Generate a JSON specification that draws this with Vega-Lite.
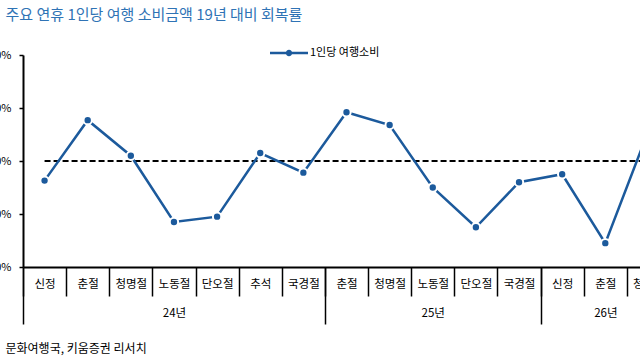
{
  "$schema": "https://vega.github.io/schema/vega-lite/v6.json",
  "width": 647,
  "height": 212,
  "autosize": "none",
  "padding": {"left": 23, "top": 55, "right": 0, "bottom": 93},
  "config": {
    "view": {"stroke": null},
    "font": "Noto Sans CJK KR",
    "axis": {"grid": false, "domainColor": "black", "tickColor": "black", "labelColor": "black", "labelFont": "Noto Sans CJK KR", "titleFont": "Noto Sans CJK KR", "labelFlush": false, "labelBound": false, "labelOverlap": false}
  },
  "datasets": {
    "main": [
      {"idx": 0, "name": "신정", "year": "24년", "value": 96.3, "series": "1인당 여행소비"},
      {"idx": 1, "name": "춘절", "year": "24년", "value": 107.7, "series": "1인당 여행소비"},
      {"idx": 2, "name": "청명절", "year": "24년", "value": 101.0, "series": "1인당 여행소비"},
      {"idx": 3, "name": "노동절", "year": "24년", "value": 88.5, "series": "1인당 여행소비"},
      {"idx": 4, "name": "단오절", "year": "24년", "value": 89.5, "series": "1인당 여행소비"},
      {"idx": 5, "name": "추석", "year": "24년", "value": 101.5, "series": "1인당 여행소비"},
      {"idx": 6, "name": "국경절", "year": "24년", "value": 97.8, "series": "1인당 여행소비"},
      {"idx": 7, "name": "춘절", "year": "25년", "value": 109.2, "series": "1인당 여행소비"},
      {"idx": 8, "name": "청명절", "year": "25년", "value": 106.8, "series": "1인당 여행소비"},
      {"idx": 9, "name": "노동절", "year": "25년", "value": 95.0, "series": "1인당 여행소비"},
      {"idx": 10, "name": "단오절", "year": "25년", "value": 87.5, "series": "1인당 여행소비"},
      {"idx": 11, "name": "국경절", "year": "25년", "value": 96.0, "series": "1인당 여행소비"},
      {"idx": 12, "name": "신정", "year": "26년", "value": 97.5, "series": "1인당 여행소비"},
      {"idx": 13, "name": "춘절", "year": "26년", "value": 84.5, "series": "1인당 여행소비"},
      {"idx": 14, "name": "청명절", "year": "26년", "value": 105.7, "series": "1인당 여행소비"}
    ],
    "ref": [{"x": 0, "x2": 14.5, "y": 100}]
  },
  "layer": [
    {
      "data": {"name": "ref"},
      "mark": {"type": "rule", "strokeDash": [6, 3], "strokeWidth": 2, "color": "black"},
      "encoding": {
        "x": {
          "field": "x", "type": "quantitative",
          "scale": {"domain": [-0.5, 14.5], "nice": false, "zero": false},
          "axis": {
            "orient": "bottom",
            "values": [-0.5, 3, 6.5, 9, 11.5, 13],
            "tickSize": 57, "tickWidth": 1.5,
            "tickOpacity": {"condition": {"test": "datum.value == 3 || datum.value == 9 || datum.value == 13", "value": 0}, "value": 1},
            "labelExpr": "datum.value == 3 ? '24년' : datum.value == 9 ? '25년' : datum.value == 13 ? '26년' : ''",
            "labelPadding": -17, "labelFontSize": 11.5,
            "domain": false,
            "title": "문화여행국, 키움증권 리서치",
            "titleX": -18, "titleY": 81, "titleAlign": "left", "titleBaseline": "middle",
            "titleFontSize": 12, "titleFontWeight": "normal", "titleColor": "black"
          }
        },
        "x2": {"field": "x2"},
        "y": {"field": "y", "type": "quantitative", "scale": {"domain": [80, 120], "nice": false, "zero": false}}
      }
    },
    {
      "data": {"name": "main"},
      "mark": {"type": "line", "strokeWidth": 2.5},
      "encoding": {
        "x": {
          "field": "idx", "type": "quantitative",
          "scale": {"domain": [-0.5, 14.5], "nice": false, "zero": false},
          "axis": {
            "orient": "bottom",
            "values": [-0.5, 0.5, 1.5, 2.5, 3.5, 4.5, 5.5, 6.5, 7.5, 8.5, 9.5, 10.5, 11.5, 12.5, 13.5, 14.5],
            "tickSize": 29, "tickWidth": 1.5,
            "labels": false,
            "domain": true, "domainWidth": 2,
            "title": null
          }
        },
        "y": {
          "field": "value", "type": "quantitative",
          "scale": {"domain": [80, 120], "nice": false, "zero": false},
          "axis": {
            "values": [80, 90, 100, 110, 120],
            "labelExpr": "datum.value + '%'",
            "tickSize": 4, "tickWidth": 1.5, "domainWidth": 2,
            "labelPadding": 8, "labelFontSize": 11,
            "title": "주요 연휴 1인당 여행 소비금액 19년 대비 회복률",
            "titleAngle": 0, "titleX": -18, "titleY": -41,
            "titleAlign": "left", "titleBaseline": "middle",
            "titleColor": "#2f73b5", "titleFontSize": 15, "titleFontWeight": "normal"
          }
        },
        "color": {
          "field": "series", "type": "nominal",
          "scale": {"range": ["#1c5a9c"]},
          "legend": {
            "orient": "none", "legendX": 247, "legendY": -21,
            "title": null, "padding": 0,
            "symbolType": "M-1,-0.07H1V0.07H-1Z M0.17,0A0.17,0.17,0,1,1,-0.17,0A0.17,0.17,0,1,1,0.17,0Z",
            "symbolSize": 1444,
            "symbolFillColor": "#1c5a9c", "symbolStrokeWidth": 0, "symbolStrokeColor": "#1c5a9c",
            "labelFontSize": 11, "labelColor": "black", "labelFont": "Noto Sans CJK KR", "labelOffset": 2
          }
        }
      }
    },
    {
      "data": {"name": "main"},
      "mark": {"type": "point", "filled": true, "size": 70, "color": "#1c5a9c", "stroke": "white", "strokeWidth": 2, "opacity": 1},
      "encoding": {
        "x": {
          "field": "idx", "type": "quantitative",
          "scale": {"domain": [-0.5, 14.5], "nice": false, "zero": false},
          "axis": {
            "orient": "bottom",
            "values": [0, 1, 2, 3, 4, 5, 6, 7, 8, 9, 10, 11, 12, 13, 14],
            "ticks": false,
            "labelExpr": "['신정','춘절','청명절','노동절','단오절','추석','국경절','춘절','청명절','노동절','단오절','국경절','신정','춘절','청명절'][datum.value]",
            "labelPadding": 11, "labelFontSize": 11.5,
            "domain": false,
            "title": null
          }
        },
        "y": {"field": "value", "type": "quantitative", "scale": {"domain": [80, 120], "nice": false, "zero": false}}
      }
    }
  ],
  "resolve": {"axis": {"x": "independent"}}
}
